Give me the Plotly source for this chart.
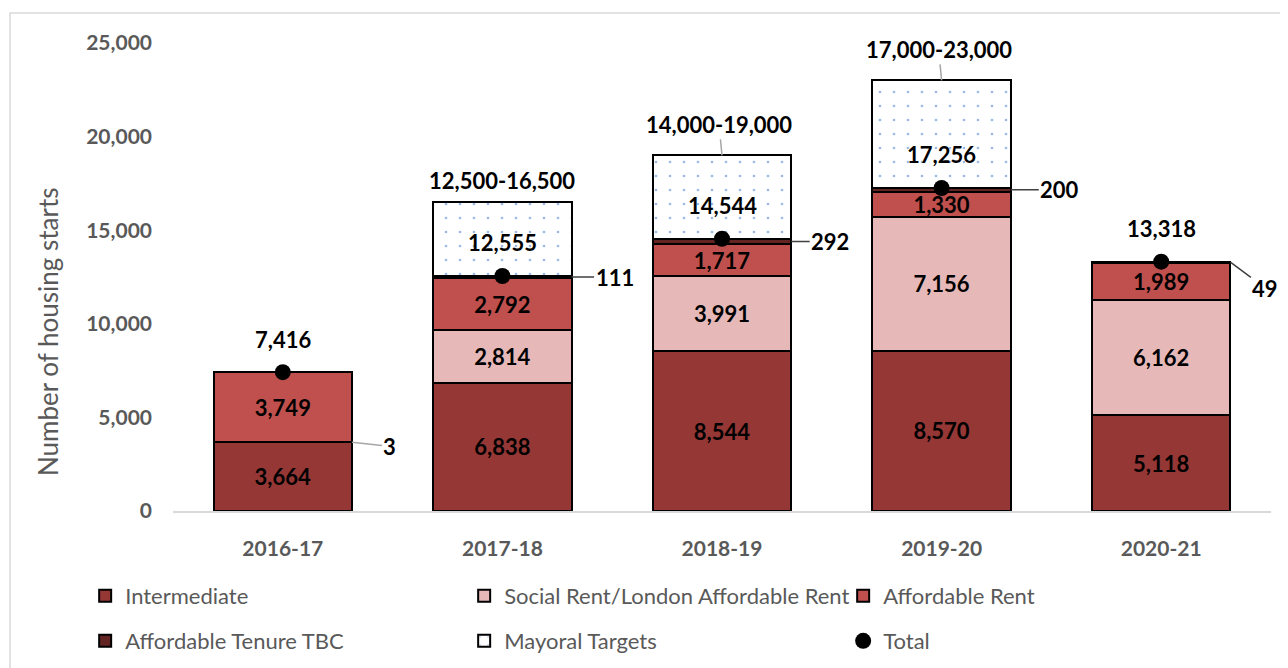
import plotly.graph_objects as go

years = ["2016-17", "2017-18", "2018-19", "2019-20", "2020-21"]
intermediate = [3664, 6838, 8544, 8570, 5118]
social_rent = [3, 2814, 3991, 7156, 6162]
affordable_rent = [3749, 2792, 1717, 1330, 1989]
tenure_tbc = [0, 111, 292, 200, 49]
totals = [7416, 12555, 14544, 17256, 13318]
target_low = [None, 12500, 14000, 17000, None]
target_high = [None, 16500, 19000, 23000, None]
y_ticks = [0, 5000, 10000, 15000, 20000, 25000]
y_title = "Number of housing starts"

FONT = "Lato"
GREY = "#595959"
BAR_W = 0.63
xi = list(range(len(years)))

mayoral = [(h - t) if h is not None else 0 for h, t in zip(target_high, totals)]

def fmt(v):
    return f"{v:,}"

fig = go.Figure()
line = dict(color="black", width=2)
txtfont = dict(family=FONT, size=22, color="black", weight="bold")

fig.add_trace(go.Bar(x=xi, y=intermediate, name="Intermediate", width=BAR_W,
                     marker=dict(color="#953735", line=line),
                     text=[fmt(v) for v in intermediate], textposition="inside",
                     insidetextanchor="middle", textfont=txtfont, constraintext="none",
                     legend="legend"))
fig.add_trace(go.Bar(x=xi, y=social_rent, name="Social Rent/London Affordable Rent", width=BAR_W,
                     marker=dict(color="#E6B9B8", line=line),
                     text=[fmt(v) if v > 1000 else "" for v in social_rent], textposition="inside",
                     insidetextanchor="middle", textfont=txtfont, constraintext="none",
                     legend="legend"))
fig.add_trace(go.Bar(x=xi, y=affordable_rent, name="Affordable Rent", width=BAR_W,
                     marker=dict(color="#C0504D", line=line),
                     text=[fmt(v) for v in affordable_rent], textposition="inside",
                     insidetextanchor="middle", textfont=txtfont, constraintext="none",
                     legend="legend"))
fig.add_trace(go.Bar(x=xi, y=tenure_tbc, name="Affordable Tenure TBC", width=BAR_W,
                     marker=dict(color="#632523", line=line),
                     legend="legend2"))
fig.add_trace(go.Bar(x=xi, y=mayoral, name="Mayoral Targets", width=BAR_W,
                     marker=dict(color="white", line=line,
                                 pattern=dict(shape=".", fgcolor="#3A75D0", bgcolor="white",
                                              size=14, solidity=0.03, fillmode="overlay")),
                     legend="legend2"))
fig.add_trace(go.Scatter(x=xi, y=totals, name="Total", mode="markers",
                         marker=dict(color="black", size=16), legend="legend2"))

ann = []
# total labels
for i, t in enumerate(totals):
    ann.append(dict(x=i, y=t, text=fmt(t), showarrow=False, yshift=33,
                    font=txtfont))
# target range labels
ay_map = {1: -22, 2: -31, 3: -31}
for i, (lo, hi) in enumerate(zip(target_low, target_high)):
    if lo is None:
        continue
    ann.append(dict(x=i, y=hi, text=f"{lo:,}-{hi:,}", showarrow=(i != 1),
                    arrowhead=0, arrowcolor="#A6A6A6", arrowwidth=1.5,
                    ax=-3, ay=ay_map[i], yshift=0 if i != 1 else 22,
                    font=txtfont))
# callouts for small segments
ann.append(dict(x=0 + BAR_W / 2, y=intermediate[0] + social_rent[0], text=fmt(social_rent[0]),
                showarrow=True, arrowhead=0, arrowcolor="#A6A6A6", arrowwidth=1.5,
                ax=38, ay=4, font=txtfont))
call_off = {1: (43, 0), 2: (39, 0), 3: (49, 0), 4: (35, 26)}
for i in range(1, 5):
    base = intermediate[i] + social_rent[i] + affordable_rent[i]
    ax, ay = call_off[i]
    ann.append(dict(x=i + BAR_W / 2, y=base + tenure_tbc[i] / 2, text=fmt(tenure_tbc[i]),
                    showarrow=True, arrowhead=0, arrowcolor="#404040", arrowwidth=1.5,
                    ax=ax, ay=ay, font=txtfont))
# y-axis title
ann.append(dict(xref="paper", yref="paper", x=-0.1138, y=0.3825, text=y_title,
                textangle=-90, showarrow=False, xanchor="center", yanchor="middle",
                font=dict(family=FONT, size=26, color=GREY)))

lg = dict(orientation="h", xanchor="left", yanchor="middle", traceorder="normal",
          font=dict(family=FONT, size=22, color=GREY), entrywidth=334,
          bgcolor="rgba(0,0,0,0)")
fig.update_layout(
    width=1288, height=668,
    margin=dict(l=165, r=25, t=35, b=165),
    paper_bgcolor="white", plot_bgcolor="white",
    barmode="stack", bargap=1 - BAR_W,
    font=dict(family=FONT, color=GREY),
    annotations=ann,
    legend=dict(lg, x=-0.08, y=-0.1816),
    legend2=dict(lg, x=-0.08, y=-0.2778),
    shapes=[dict(type="rect", xref="paper", yref="paper", x0=-0.1484, x1=1.05,
                 y0=-0.5, y1=1.064, line=dict(color="#D9D9D9", width=1.5),
                 fillcolor="rgba(0,0,0,0)", layer="below")],
)
fig.update_xaxes(tickvals=xi, ticktext=years, range=[-0.5, 4.5],
                 showline=True, linecolor="#D9D9D9", linewidth=1.5,
                 showgrid=False, zeroline=False, ticks="", ticklabelstandoff=18,
                 tickfont=dict(family=FONT, size=21, color=GREY, weight="bold"))
fig.update_yaxes(range=[0, 25000], tickvals=y_ticks, tickformat=",d",
                 showgrid=False, zeroline=False, showline=False, ticks="",
                 ticklabelstandoff=20,
                 tickfont=dict(family=FONT, size=21, color=GREY, weight="bold"))

fig.write_html("out.html")
